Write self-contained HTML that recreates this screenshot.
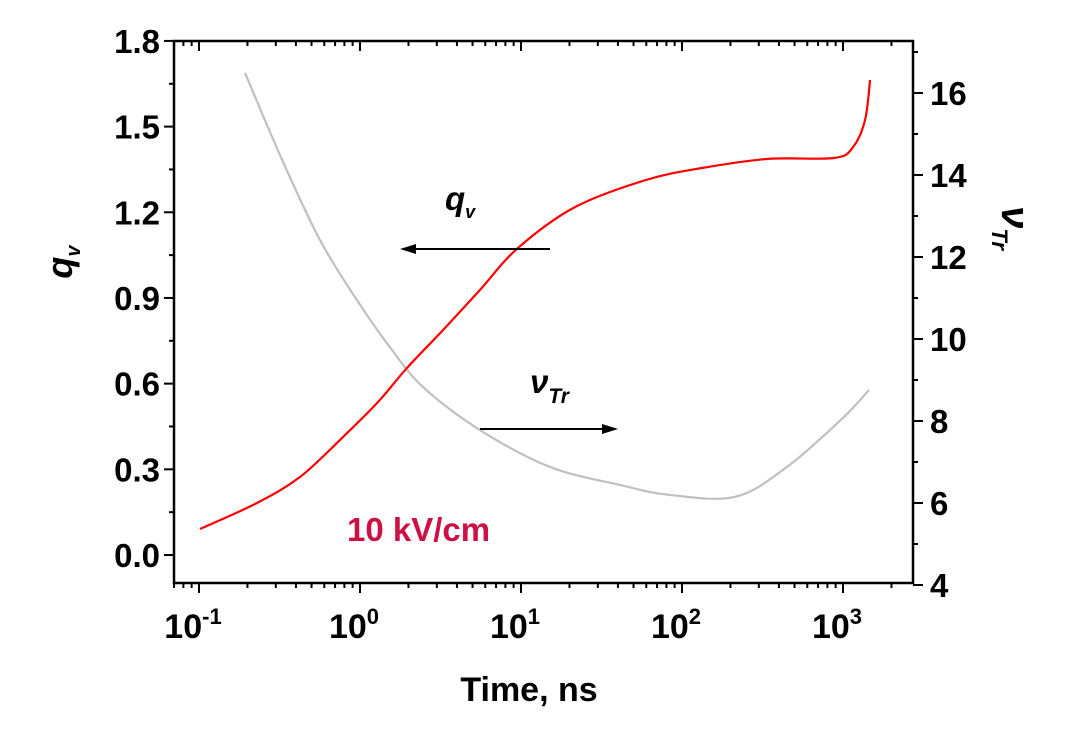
<!DOCTYPE html>
<html><head><meta charset="utf-8"><style>
body{margin:0;background:#fff;width:1067px;height:729px;overflow:hidden}
svg text{font-family:"Liberation Sans",sans-serif;font-weight:bold}
</style></head><body>
<svg id="chart" width="1067" height="729" xmlns="http://www.w3.org/2000/svg">
<g id="axes"></g>
<g id="series"></g>
<g>
<line x1="550" y1="249" x2="412" y2="249" stroke="#000" stroke-width="2"/>
<polygon points="400,249 416,244 416,254" fill="#000"/>
<text x="445" y="210" font-size="33" font-style="italic">q<tspan font-size="18" dy="8">v</tspan></text>
<line x1="480" y1="429" x2="606" y2="429" stroke="#000" stroke-width="2"/>
<polygon points="618,429 602,424 602,434" fill="#000"/>
<text x="530" y="393" font-size="33" font-style="italic">ν<tspan font-size="21" dy="10">Tr</tspan></text>
<text x="347" y="541" font-size="33" fill="#cc1144">10 kV/cm</text>
<text x="529" y="701" font-size="34" text-anchor="middle">Time, ns</text>
<text transform="translate(72,262) rotate(-90)" font-size="36" font-style="italic" text-anchor="middle">q<tspan font-size="20" dy="8">v</tspan></text>
<text transform="translate(1002,228) rotate(90)" font-size="40" font-style="italic" text-anchor="middle">ν<tspan font-size="22" dy="10">Tr</tspan></text>
</g>
</svg>
<script>
const qLogT=[-0.994,-0.640,-0.373,-0.124,0.106,0.292,0.516,0.745,0.981,1.335,1.776,2.124,2.534,2.944,3.062,3.137,3.168];
const qVals=[0.091,0.182,0.273,0.403,0.532,0.655,0.788,0.928,1.075,1.218,1.313,1.355,1.387,1.390,1.428,1.523,1.663];
const vLogT=[-0.714,-0.484,-0.248,-0.019,0.186,0.391,0.745,1.180,1.615,1.919,2.329,2.652,3.006,3.161];
const vVals=[16.49,14.37,12.41,10.95,9.80,8.83,7.78,6.88,6.44,6.20,6.15,6.88,8.10,8.76];
const xDecades=[-1,0,1,2,3];
const leftTicks=[0,0.3,0.6,0.9,1.2,1.5,1.8];
const rightTicks=[4,6,8,10,12,14,16];
const L=174,R=913,T=41,B=583;
const X=lt=>199+(lt+1)*161;
const YL=q=>555-q*285.6;
const YR=v=>93+(16-v)*41;
const ns='http://www.w3.org/2000/svg';
function mk(tag,attrs,parent){const e=document.createElementNS(ns,tag);for(const k in attrs)e.setAttribute(k,attrs[k]);parent.appendChild(e);return e;}
const ax=document.getElementById('axes');
let r=mk('rect',{x:L,y:T,width:R-L,height:B-T,fill:'none',stroke:'#000','stroke-width':2.5},ax);


for(let d=-2;d<=3;d++){for(let m=1;m<10;m++){const lt=d+Math.log10(m);const x=X(lt);if(x<L||x>R)continue;const len=m===1?10:5;
let t=mk('line',{x1:x,y1:B,x2:x,y2:B+len,stroke:'#000','stroke-width':2},ax);


let t2=mk('line',{x1:x,y1:T,x2:x,y2:T+len,stroke:'#000','stroke-width':2},ax);

}}
xDecades.forEach(d=>{const t=mk('text',{x:X(d)-6,y:638,'font-size':34,'text-anchor':'middle'},ax);


t.innerHTML='10<tspan font-size="22" dy="-14">'+(d<0?'-':'')+Math.abs(d)+'</tspan>';});
leftTicks.forEach((q,i)=>{const y=YL(q);
let t=mk('line',{x1:L-10,y1:y,x2:L,y2:y,stroke:'#000','stroke-width':2},ax);


const y2=YL(q+0.15);if(y2>T){let m=mk('line',{x1:L-5,y1:y2,x2:L,y2:y2,stroke:'#000','stroke-width':2},ax);

}
const lb=mk('text',{x:L-14,y:y+12,'font-size':33,'text-anchor':'end'},ax);


lb.textContent=q.toFixed(1);});
rightTicks.forEach(v=>{const y=YR(v);
let t=mk('line',{x1:R,y1:y,x2:R+10,y2:y,stroke:'#000','stroke-width':2},ax);


const y2=YR(v+1);if(y2>T){let m=mk('line',{x1:R,y1:y2,x2:R+5,y2:y2,stroke:'#000','stroke-width':2},ax);

}
const lb=mk('text',{x:R+17,y:y+12,'font-size':33},ax);


lb.textContent=v;});
function smooth(pts){let d='M'+pts[0][0]+','+pts[0][1];for(let i=0;i<pts.length-1;i++){const p0=pts[i-1]||pts[i],p1=pts[i],p2=pts[i+1],p3=pts[i+2]||p2;
d+=' C'+(p1[0]+(p2[0]-p0[0])/6)+','+(p1[1]+(p2[1]-p0[1])/6)+' '+(p2[0]-(p3[0]-p1[0])/6)+','+(p2[1]-(p3[1]-p1[1])/6)+' '+p2[0]+','+p2[1];}return d;}
const sg=document.getElementById('series');
const gp=mk('path',{d:smooth(vLogT.map((t,i)=>[X(t),YR(vVals[i])])),fill:'none',stroke:'#c0c0c0','stroke-width':2.2},sg);


const rp=mk('path',{d:smooth(qLogT.map((t,i)=>[X(t),YL(qVals[i])])),fill:'none',stroke:'#ff0000','stroke-width':2.2},sg);


</script>
</body></html>
